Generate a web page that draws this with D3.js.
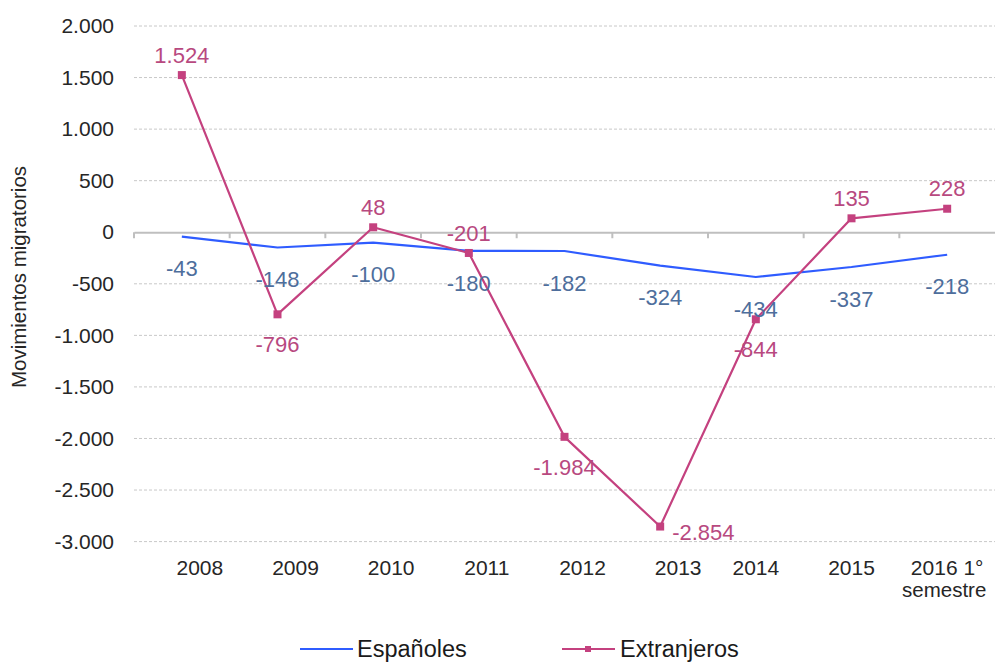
<!DOCTYPE html>
<html>
<head>
<meta charset="utf-8">
<script src="https://cdn.jsdelivr.net/npm/d3@7"></script>
<style>
  html, body { margin: 0; padding: 0; background: #fff; }
  svg { display: block; font-family: "Liberation Sans", Arial, Helvetica, sans-serif; }
</style>
</head>
<body>
<svg id="chart" width="995" height="662"></svg>
<script>
const categories = ["2008", "2009", "2010", "2011", "2012", "2013", "2014", "2015", "2016 1°|semestre"];
const espanoles = [-43, -148, -100, -180, -182, -324, -434, -337, -218];
const extranjeros = [1524, -796, 48, -201, -1984, -2854, -844, 135, 228];
const yTicks = [2000, 1500, 1000, 500, 0, -500, -1000, -1500, -2000, -2500, -3000];
const seriesNames = ["Españoles", "Extranjeros"];
const extLabelPos = ["above", "below", "above", "above", "below", "right", "below", "above", "above"];

const svg = d3.select("#chart");
const plotLeft = 134, plotRight = 995, plotTop = 26, plotBottom = 541.6;

const x = d3.scaleBand().domain(categories).range([plotLeft, plotRight]).padding(0);
const y = d3.scaleLinear().domain([-3000, 2000]).range([plotBottom, plotTop]);
const cx = c => x(c) + x.bandwidth() / 2;

const fmt = v => {
  const s = Math.abs(v).toString().replace(/\B(?=(\d{3})+(?!\d))/g, ".");
  return (v < 0 ? "-" : "") + s;
};

// gridlines
svg.append("g").selectAll("line").data(yTicks.filter(t => t !== 0)).join("line")
  .attr("x1", plotLeft).attr("x2", plotRight)
  .attr("y1", d => y(d)).attr("y2", d => y(d))
  .attr("stroke", "#c8c8c8").attr("stroke-width", 1).attr("stroke-dasharray", "3,2");

// y axis labels
const yAxis = d3.axisLeft(y).tickValues(yTicks).tickSize(0).tickPadding(0).tickFormat(fmt);
const yg = svg.append("g").attr("transform", `translate(114,0)`).call(yAxis);
yg.select(".domain").remove();
yg.selectAll("text").attr("font-size", 21).attr("fill", "#262626")
  .attr("font-family", "Liberation Sans, Arial, sans-serif");

// zero axis line with ticks at band boundaries
const xAxis = d3.axisBottom(x).tickSize(0).tickFormat("");
const xg = svg.append("g").attr("transform", `translate(0,${y(0)})`).call(xAxis);
xg.select(".domain").attr("stroke", "#bfbfbf").attr("stroke-width", 2);
xg.selectAll(".tick").remove();
const bounds = categories.map(c => x(c));
svg.append("g").selectAll("line").data(bounds).join("line")
  .attr("x1", d => d).attr("x2", d => d)
  .attr("y1", y(0)).attr("y2", y(0) + 6)
  .attr("stroke", "#bfbfbf").attr("stroke-width", 2);

// x category labels at bottom
const xl = svg.append("g");
categories.forEach((c, i) => {
  const parts = c.split("|");
  const shift = parts.length === 1 && i < 6 ? 18 : 0;
  const t = xl.append("text")
    .attr("x", cx(c) + shift).attr("y", 575)
    .attr("text-anchor", "middle").attr("font-size", 21).attr("fill", "#262626");
  t.append("tspan").attr("x", cx(c) + shift).text(parts[0]);
  if (parts[1]) t.append("tspan").attr("x", cx(c) - 3).attr("dy", 22).attr("font-size", 20.5).text(parts[1]);
});

// y title
svg.append("text")
  .attr("transform", `translate(26,277) rotate(-90)`)
  .attr("text-anchor", "middle").attr("font-size", 20.5).attr("fill", "#262626")
  .text("Movimientos migratorios");

const blue = "#2f5cff", mag = "#c4417f";
const blueLbl = "#4e6e9c", magLbl = "#b8497f";

const line = d3.line().x((d, i) => cx(categories[i])).y(d => y(d));

svg.append("path").datum(espanoles).attr("d", line)
  .attr("fill", "none").attr("stroke", blue).attr("stroke-width", 2.2).attr("stroke-linejoin", "round");
svg.append("path").datum(extranjeros).attr("d", line)
  .attr("fill", "none").attr("stroke", mag).attr("stroke-width", 2.2).attr("stroke-linejoin", "round");

svg.append("g").selectAll("rect").data(extranjeros).join("rect")
  .attr("x", (d, i) => cx(categories[i]) - 4).attr("y", d => y(d) - 4)
  .attr("width", 8).attr("height", 8).attr("fill", mag);

// labels
svg.append("g").selectAll("text").data(espanoles).join("text")
  .attr("x", (d, i) => cx(categories[i])).attr("y", d => y(d) + 32)
  .attr("dy", "0.35em").attr("text-anchor", "middle").attr("font-size", 22).attr("fill", blueLbl)
  .text(fmt);

svg.append("g").selectAll("text").data(extranjeros).join("text")
  .attr("x", (d, i) => {
    const p = extLabelPos[i];
    return cx(categories[i]) + (p === "right" ? 12 : 0);
  })
  .attr("y", (d, i) => {
    const p = extLabelPos[i];
    return y(d) + (p === "above" ? -20 : p === "below" ? 30 : 6);
  })
  .attr("dy", "0.35em")
  .attr("text-anchor", (d, i) => extLabelPos[i] === "right" ? "start" : "middle")
  .attr("font-size", 22).attr("fill", magLbl)
  .text(fmt);

// legend
const lg = svg.append("g");
lg.append("line").attr("x1", 300).attr("x2", 353).attr("y1", 649).attr("y2", 649)
  .attr("stroke", blue).attr("stroke-width", 2.2);
lg.append("text").attr("x", 357).attr("y", 649).attr("dy", "0.35em")
  .attr("font-size", 23.5).attr("fill", "#1a1a1a").text(seriesNames[0]);
lg.append("line").attr("x1", 562).attr("x2", 615).attr("y1", 649).attr("y2", 649)
  .attr("stroke", mag).attr("stroke-width", 2.2);
lg.append("rect").attr("x", 585).attr("y", 646).attr("width", 6).attr("height", 6).attr("fill", mag);
lg.append("text").attr("x", 620).attr("y", 649).attr("dy", "0.35em")
  .attr("font-size", 23.5).attr("fill", "#1a1a1a").text(seriesNames[1]);
</script>
</body>
</html>
